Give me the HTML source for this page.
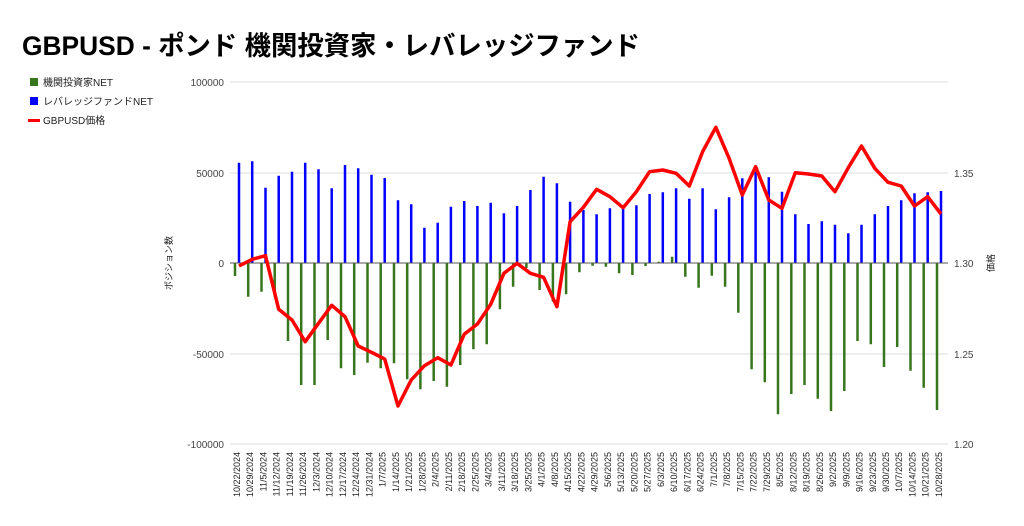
<!DOCTYPE html>
<html><head><meta charset="utf-8"><style>
body{margin:0;background:#fff;width:1024px;height:526px;overflow:hidden}
svg{display:block;font-family:"Liberation Sans","Noto Sans CJK JP",sans-serif}
</style></head><body>
<svg width="1024" height="526" viewBox="0 0 1024 526">
<text x="22" y="55" font-size="26.5" font-weight="bold" fill="#000" textLength="618" lengthAdjust="spacingAndGlyphs">GBPUSD - ポンド 機関投資家・レバレッジファンド</text>
<rect x="30" y="78" width="8" height="8" fill="#38761d"/>
<text x="43" y="86" font-size="10" fill="#222">機関投資家NET</text>
<rect x="30" y="97" width="8" height="8" fill="#0000ff"/>
<text x="43" y="105" font-size="10" fill="#222">レバレッジファンドNET</text>
<rect x="28" y="119" width="12" height="3" fill="#ff0000"/>
<text x="43" y="124" font-size="10" fill="#222">GBPUSD価格</text>
<g stroke="#ddd" stroke-width="1">
<line x1="230" x2="948" y1="82" y2="82"/><line x1="230" x2="948" y1="173" y2="173"/><line x1="230" x2="948" y1="354" y2="354"/><line x1="230" x2="948" y1="444" y2="444"/>
</g>
<g font-size="10" fill="#444" text-anchor="end">
<text x="224" y="86">100000</text><text x="224" y="177">50000</text><text x="224" y="267">0</text><text x="224" y="358">-50000</text><text x="224" y="448">-100000</text>
</g>
<g font-size="10" fill="#444">
<text x="954" y="177">1.35</text><text x="954" y="267">1.30</text><text x="954" y="358">1.25</text><text x="954" y="448">1.20</text>
</g>
<text transform="translate(172,290) rotate(-90)" font-size="9" fill="#222">ポジション数</text>
<text transform="translate(994,272) rotate(-90)" font-size="9" fill="#222">価格</text>
<path stroke="#0000ff" stroke-width="2.5" fill="none" d="M239,263V162.7M252.2,263V161.3M265.5,263V187.7M278.7,263V175.7M292,263V171.7M305.2,263V162.7M318.5,263V169.3M331.7,263V188.3M345,263V165M358.2,263V168.3M371.5,263V174.7M384.7,263V178M398,263V200.3M411.2,263V204.3M424.4,263V227.7M437.7,263V222.7M450.9,263V206.7M464.2,263V201M477.4,263V206M490.7,263V202.7M503.9,263V213.3M517.1,263V206M530.4,263V190M543.6,263V176.7M556.9,263V183.3M570.1,263V201.7M583.4,263V210M596.6,263V214.3M609.9,263V208.3M623.1,263V207.3M636.4,263V205.3M649.6,263V194M662.8,263V192.3M676.1,263V188.3M689.3,263V198.7M702.6,263V188.3M715.8,263V209.3M729.1,263V197.3M742.3,263V178.3M755.6,263V171.7M768.8,263V177.3M782,263V191.7M795.3,263V214.3M808.5,263V224M821.8,263V221.3M835,263V224.7M848.3,263V233.3M861.5,263V224.7M874.8,263V214.3M888,263V206M901.2,263V200.3M914.5,263V193.3M927.7,263V192.3M941,263V191"/>
<path stroke="#38761d" stroke-width="2.5" fill="none" d="M235,263V276M248.2,263V296.7M261.5,263V291.7M274.7,263V296.7M288,263V341M301.2,263V385M314.5,263V385M327.7,263V340M341,263V368.3M354.2,263V375M367.5,263V362.7M380.7,263V368.3M394,263V363.3M407.2,263V379.3M420.4,263V389.3M433.7,263V381M446.9,263V386.7M460.2,263V365M473.4,263V349.3M486.7,263V344.3M499.9,263V309.3M513.1,263V286.7M526.4,263V268M539.6,263V290M552.9,263V301.7M566.1,263V294.3M579.4,263V272.3M592.6,263V265.7M605.9,263V266.7M619.1,263V273.3M632.4,263V275M645.6,263V266M658.8,263V261.7M672.1,263V256.7M685.3,263V276.7M698.6,263V287.7M711.8,263V275.7M725.1,263V286.7M738.3,263V312.7M751.6,263V369.3M764.8,263V382.3M778,263V414.3M791.3,263V394M804.5,263V385M817.8,263V398.7M831,263V411M844.3,263V391M857.5,263V341M870.8,263V344.3M884,263V367M897.2,263V347M910.5,263V370.7M923.7,263V387.7M937,263V410"/>
<line x1="230" x2="948" y1="263" y2="263" stroke="#555" stroke-width="1"/>
<polyline fill="none" stroke="#ff0000" stroke-width="3.5" stroke-linejoin="round" points="239,266 252.2,259.3 265.5,255.7 278.7,309.3 292,320 305.2,341.7 318.5,323.3 331.7,305.3 345,316.7 358.2,346 371.5,352.3 384.7,359 398,406 411.2,380 424.4,365.7 437.7,357.7 450.9,365 464.2,334.3 477.4,324 490.7,304.3 503.9,273.3 517.1,263.3 530.4,273.3 543.6,277.3 556.9,306.7 570.1,221.7 583.4,207.3 596.6,189.3 609.9,196.7 623.1,207.7 636.4,191.7 649.6,171.7 662.8,170 676.1,173.3 689.3,186 702.6,151.7 715.8,127.3 729.1,158.3 742.3,195 755.6,166.7 768.8,200 782,208.3 795.3,172.7 808.5,174 821.8,176 835,191.7 848.3,167.7 861.5,146 874.8,168.3 888,182.3 901.2,186 914.5,206 927.7,196.7 941,214"/>
<g font-size="9" fill="#222" text-anchor="end">
<text transform="translate(240,452) rotate(-90)">10/22/2024</text>
<text transform="translate(253.2,452) rotate(-90)">10/29/2024</text>
<text transform="translate(266.5,452) rotate(-90)">11/5/2024</text>
<text transform="translate(279.7,452) rotate(-90)">11/12/2024</text>
<text transform="translate(293,452) rotate(-90)">11/19/2024</text>
<text transform="translate(306.2,452) rotate(-90)">11/26/2024</text>
<text transform="translate(319.5,452) rotate(-90)">12/3/2024</text>
<text transform="translate(332.7,452) rotate(-90)">12/10/2024</text>
<text transform="translate(346,452) rotate(-90)">12/17/2024</text>
<text transform="translate(359.2,452) rotate(-90)">12/24/2024</text>
<text transform="translate(372.5,452) rotate(-90)">12/31/2024</text>
<text transform="translate(385.7,452) rotate(-90)">1/7/2025</text>
<text transform="translate(399,452) rotate(-90)">1/14/2025</text>
<text transform="translate(412.2,452) rotate(-90)">1/21/2025</text>
<text transform="translate(425.4,452) rotate(-90)">1/28/2025</text>
<text transform="translate(438.7,452) rotate(-90)">2/4/2025</text>
<text transform="translate(451.9,452) rotate(-90)">2/11/2025</text>
<text transform="translate(465.2,452) rotate(-90)">2/18/2025</text>
<text transform="translate(478.4,452) rotate(-90)">2/25/2025</text>
<text transform="translate(491.7,452) rotate(-90)">3/4/2025</text>
<text transform="translate(504.9,452) rotate(-90)">3/11/2025</text>
<text transform="translate(518.1,452) rotate(-90)">3/18/2025</text>
<text transform="translate(531.4,452) rotate(-90)">3/25/2025</text>
<text transform="translate(544.6,452) rotate(-90)">4/1/2025</text>
<text transform="translate(557.9,452) rotate(-90)">4/8/2025</text>
<text transform="translate(571.1,452) rotate(-90)">4/15/2025</text>
<text transform="translate(584.4,452) rotate(-90)">4/22/2025</text>
<text transform="translate(597.6,452) rotate(-90)">4/29/2025</text>
<text transform="translate(610.9,452) rotate(-90)">5/6/2025</text>
<text transform="translate(624.1,452) rotate(-90)">5/13/2025</text>
<text transform="translate(637.4,452) rotate(-90)">5/20/2025</text>
<text transform="translate(650.6,452) rotate(-90)">5/27/2025</text>
<text transform="translate(663.8,452) rotate(-90)">6/3/2025</text>
<text transform="translate(677.1,452) rotate(-90)">6/10/2025</text>
<text transform="translate(690.3,452) rotate(-90)">6/17/2025</text>
<text transform="translate(703.6,452) rotate(-90)">6/24/2025</text>
<text transform="translate(716.8,452) rotate(-90)">7/1/2025</text>
<text transform="translate(730.1,452) rotate(-90)">7/8/2025</text>
<text transform="translate(743.3,452) rotate(-90)">7/15/2025</text>
<text transform="translate(756.6,452) rotate(-90)">7/22/2025</text>
<text transform="translate(769.8,452) rotate(-90)">7/29/2025</text>
<text transform="translate(783,452) rotate(-90)">8/5/2025</text>
<text transform="translate(796.3,452) rotate(-90)">8/12/2025</text>
<text transform="translate(809.5,452) rotate(-90)">8/19/2025</text>
<text transform="translate(822.8,452) rotate(-90)">8/26/2025</text>
<text transform="translate(836,452) rotate(-90)">9/2/2025</text>
<text transform="translate(849.3,452) rotate(-90)">9/9/2025</text>
<text transform="translate(862.5,452) rotate(-90)">9/16/2025</text>
<text transform="translate(875.8,452) rotate(-90)">9/23/2025</text>
<text transform="translate(889,452) rotate(-90)">9/30/2025</text>
<text transform="translate(902.2,452) rotate(-90)">10/7/2025</text>
<text transform="translate(915.5,452) rotate(-90)">10/14/2025</text>
<text transform="translate(928.7,452) rotate(-90)">10/21/2025</text>
<text transform="translate(942,452) rotate(-90)">10/28/2025</text>
</g>
</svg>
</body></html>
